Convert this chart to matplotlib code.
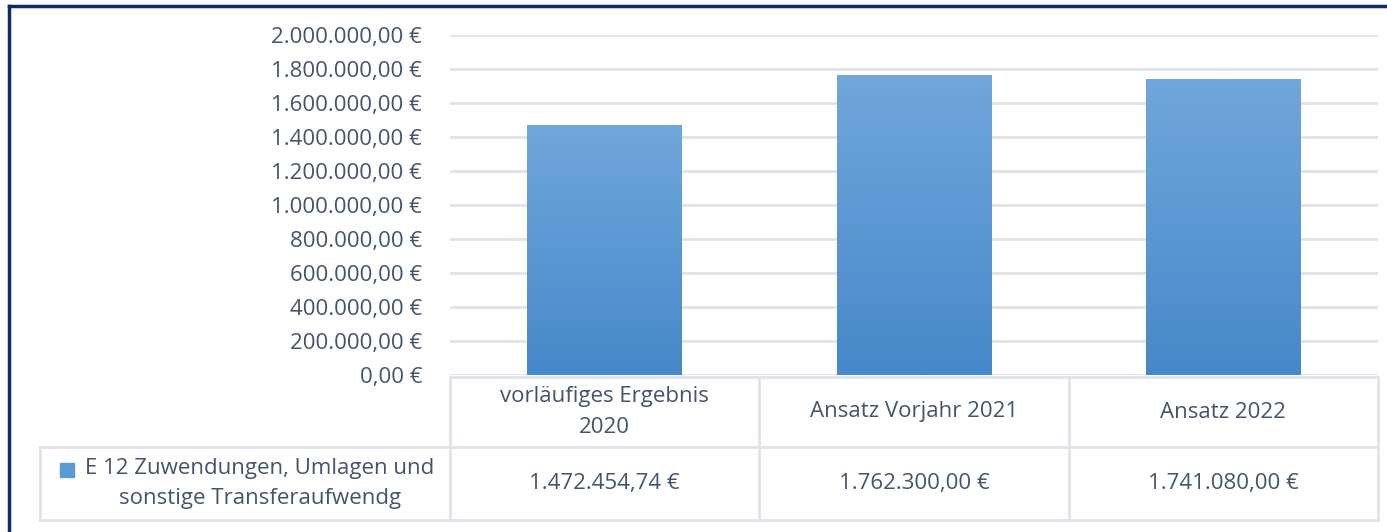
import numpy as np
import matplotlib.pyplot as plt
from matplotlib.lines import Line2D
from matplotlib.patches import Rectangle
from matplotlib.colors import LinearSegmentedColormap
from matplotlib.transforms import blended_transform_factory

categories = ["vorläufiges Ergebnis\n2020", "Ansatz Vorjahr 2021", "Ansatz 2022"]
values = [1472454.74, 1762300.00, 1741080.00]
series_name = "E 12 Zuwendungen, Umlagen und\nsonstige Transferaufwendg"
yticks = [0, 200000, 400000, 600000, 800000, 1000000, 1200000, 1400000, 1600000, 1800000, 2000000]

plt.rcParams['font.family'] = ['Open Sans', 'DejaVu Sans']
TEXT = '#44546a'
GRID = '#dfe3ea'
NAVY = '#0e2a6b'
FS = 16


def fmt_eur(v):
    s = f"{v:,.2f}".replace(",", "X").replace(".", ",").replace("X", ".")
    return s + " €"


W, H = 1387, 532
fig = plt.figure(figsize=(W / 100, H / 100), dpi=100)
ax = fig.add_axes([450 / W, 1 - 375 / H, (1378 - 450) / W, (375 - 35) / H])

x = np.arange(len(categories))
bars = ax.bar(x, values, width=0.5, color='none', zorder=3)

# vertical gradient inside each bar
grad = np.linspace(0, 1, 256).reshape(-1, 1)
cmap = LinearSegmentedColormap.from_list('bar', ['#4788c9', '#70a7dc'])
for b in bars:
    x0, w, h = b.get_x(), b.get_width(), b.get_height()
    im = ax.imshow(grad, extent=[x0, x0 + w, 0, h], origin='lower',
                   aspect='auto', cmap=cmap, zorder=3)
    im.set_clip_path(b)

ax.set_xlim(-0.5, len(categories) - 0.5)
ax.set_ylim(0, 2000000)
ax.set_yticks(yticks)
ax.set_yticklabels([fmt_eur(t) for t in yticks])
ax.set_xticks([])
ax.tick_params(axis='y', length=0, pad=20, labelsize=FS, labelcolor=TEXT)
ax.grid(axis='y', color=GRID, lw=2, zorder=0)
for s in ax.spines.values():
    s.set_visible(False)

# data table below the plot
tr = blended_transform_factory(ax.transData, fig.transFigure)
y_top = 1 - 377 / H
y_mid = 1 - 447 / H
y_bot = 1 - 520 / H
x_left_fig = 40 / W
ax_left_fig = 450 / W
ax_right_fig = 1378 / W

lines = [
    ([ax_left_fig, ax_right_fig], [y_top, y_top]),
    ([x_left_fig, ax_right_fig], [y_mid, y_mid]),
    ([x_left_fig, ax_right_fig], [y_bot, y_bot]),
    ([x_left_fig, x_left_fig], [y_mid, y_bot]),
]
for xs, ys in lines:
    fig.add_artist(Line2D(xs, ys, color=GRID, lw=2))
for bx in np.arange(len(categories) + 1) - 0.5:
    fig.add_artist(Line2D([bx, bx], [y_top, y_bot], color=GRID, lw=2,
                          transform=tr, clip_on=False))

for i, (c, v) in enumerate(zip(categories, values)):
    fig.text(i, (y_top + y_mid) / 2, c, transform=tr, ha='center', va='center',
             fontsize=FS, color=TEXT, linespacing=1.6)
    fig.text(i, (y_mid + y_bot) / 2, fmt_eur(v), transform=tr, ha='center',
             va='center', fontsize=FS, color=TEXT)

fig.text(260 / W, (y_mid + y_bot) / 2, series_name, ha='center', va='center',
         fontsize=FS, color=TEXT, linespacing=1.6)
fig.add_artist(Rectangle((60 / W, 1 - 477 / H), 14 / W, 14 / H,
                         transform=fig.transFigure, color='#5b9bd5'))

# chart frame
fig.add_artist(Line2D([9 / W, 9 / W], [0, 1 - 6 / H], color=NAVY, lw=2.5))
fig.add_artist(Line2D([9 / W, 1], [1 - 6 / H, 1 - 6 / H], color=NAVY, lw=2.5))

fig.savefig('out.png', dpi=100)
